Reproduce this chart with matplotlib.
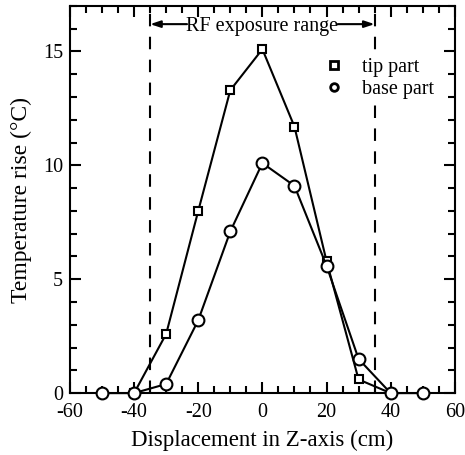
import numpy as np
import matplotlib.pyplot as plt
from matplotlib.ticker import MultipleLocator

plt.rcParams['font.family'] = ['Liberation Serif', 'DejaVu Serif']
plt.rcParams['axes.unicode_minus'] = False

# Data
tip_x = [-40, -30, -20, -10, 0, 10, 20, 30, 40]
tip_y = [0, 2.6, 8.0, 13.3, 15.1, 11.7, 5.8, 0.6, 0]
base_x = [-50, -40, -30, -20, -10, 0, 10, 20, 30, 40, 50]
base_y = [0, 0, 0.4, 3.2, 7.1, 10.1, 9.1, 5.6, 1.5, 0, 0]
rf_edge = 35

fig = plt.figure(figsize=(4.65, 4.55), dpi=100)
ax = fig.add_axes([0.1505, 0.136, 0.8275, 0.851])

ax.plot(tip_x, tip_y, color='black', lw=1.5, marker='s', ms=6,
        mfc='white', mec='black', mew=1.5, label='tip part', zorder=3,
        clip_on=False)
ax.plot(base_x, base_y, color='black', lw=1.5, marker='o', ms=8.5,
        mfc='white', mec='black', mew=1.5, label='base part', zorder=4,
        clip_on=False)

for xv in (-rf_edge, rf_edge):
    ax.axvline(xv, color='black', lw=1.5, ls=(0, (6, 5)), zorder=1)

ax.text(0, 16.1, 'RF exposure range', ha='center', va='center', fontsize=14.5)
for a, b in ((-23.5, -rf_edge), (23.5, rf_edge)):
    ax.annotate('', xy=(b, 16.2), xytext=(a, 16.2),
                arrowprops=dict(arrowstyle='-|>,head_length=0.6,head_width=0.2',
                                color='black', lw=1.5, shrinkA=0, shrinkB=0))

ax.set_xlim(-60, 60)
ax.set_ylim(0, 17)
ax.xaxis.set_major_locator(MultipleLocator(20))
ax.xaxis.set_minor_locator(MultipleLocator(5))
ax.yaxis.set_major_locator(MultipleLocator(5))
ax.yaxis.set_minor_locator(MultipleLocator(1))
ax.tick_params(which='both', direction='in', top=True, right=True, width=1.5)
ax.tick_params(which='major', length=8, labelsize=14.5, pad=5)
ax.tick_params(axis='x', which='major', pad=7)
ax.tick_params(which='minor', length=5)
for s in ax.spines.values():
    s.set_linewidth(1.5)

ax.set_xlabel('Displacement in Z-axis (cm)', fontsize=16.5, labelpad=6)
ax.set_ylabel('Temperature rise (°C)', fontsize=17, labelpad=8)

leg = ax.legend(loc='upper left', bbox_to_anchor=(0.655, 0.87), frameon=True,
                fancybox=False, facecolor='white', edgecolor='none', framealpha=1,
                fontsize=14.5, numpoints=1, handlelength=1.0, handletextpad=0.9,
                labelspacing=0.15, borderpad=0.1, borderaxespad=0)
for h in leg.legend_handles:
    h.set_linestyle('none')
    h.set_markersize(5.5)
    h.set_markeredgewidth(2)

fig.savefig('out.png', dpi=100)
